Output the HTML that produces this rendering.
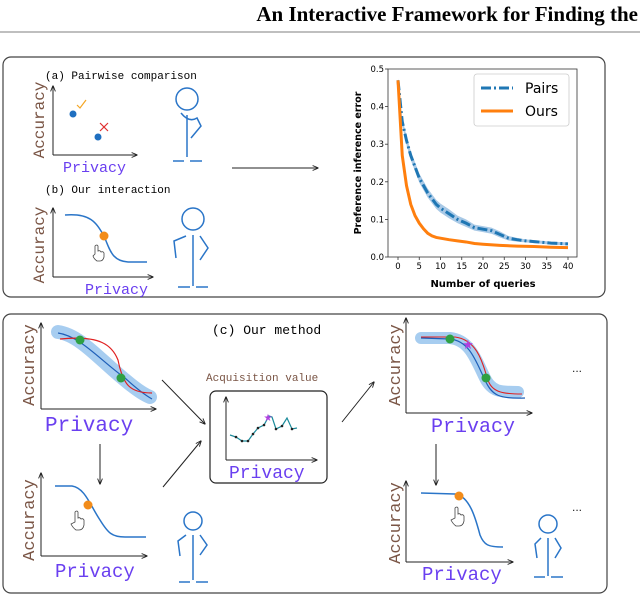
<!DOCTYPE html>
<html><head><meta charset="utf-8"><style>
html,body{margin:0;padding:0;background:#fff;}
svg{display:block;}
.mono{font-family:"Liberation Mono",monospace;}
.acc{font-family:"Liberation Mono",monospace;fill:#7a5545;}
.prv{font-family:"Liberation Mono",monospace;fill:#6a3ff0;}
</style></head><body>
<svg id="fig" width="640" height="595" viewBox="0 0 640 595" xmlns="http://www.w3.org/2000/svg">
<defs>
<marker id="ah" viewBox="0 0 10 10" refX="9" refY="5" markerWidth="6" markerHeight="6" orient="auto"><path d="M0,1 L10,5 L0,9" fill="none" stroke="#222" stroke-width="1.5"/></marker>
</defs>
<text x="638" y="21" text-anchor="end" font-family="Liberation Serif,serif" font-weight="bold" font-size="21">An Interactive Framework for Finding the</text>
<line x1="0" y1="32" x2="640" y2="32" stroke="#555" stroke-width="0.8"/>

<rect x="3" y="57" width="602" height="240" rx="8" fill="none" stroke="#444" stroke-width="1.2"/>
<g>
<text x="45" y="79" class="mono" font-size="11">(a) Pairwise comparison</text>
<line x1="53" y1="155" x2="53" y2="86" stroke="#222" marker-end="url(#ah)"/>
<line x1="53" y1="155" x2="137" y2="155" stroke="#222" marker-end="url(#ah)"/>
<text transform="translate(44,120) rotate(-90)" text-anchor="middle" class="acc" font-size="16">Accuracy</text>
<text x="63" y="172" class="prv" font-size="15">Privacy</text>
<circle cx="73" cy="114" r="3.5" fill="#1f6fc0"/><circle cx="98" cy="137" r="3.5" fill="#1f6fc0"/>
<path d="M77,105 l3,3 l6,-8" stroke="#f5a623" fill="none" stroke-width="1.2"/>
<path d="M100,123 l8,8 M108,123 l-8,8" stroke="#e03030" fill="none" stroke-width="1.2"/>
<g stroke="#2a75c8" fill="none" stroke-width="1.5"><circle cx="187" cy="99" r="11"/><line x1="187" y1="115" x2="187" y2="157"/><path d="M181,113 q8,10 16,5 l4,8 l-10,12"/><line x1="173" y1="161" x2="184" y2="161"/><line x1="190" y1="161" x2="202" y2="161"/></g>
</g>
<g>
<text x="45" y="193" class="mono" font-size="11">(b) Our interaction</text>
<line x1="53" y1="277" x2="53" y2="208" stroke="#222" marker-end="url(#ah)"/>
<line x1="53" y1="277" x2="153" y2="277" stroke="#222" marker-end="url(#ah)"/>
<text transform="translate(44,245) rotate(-90)" text-anchor="middle" class="acc" font-size="16">Accuracy</text>
<text x="85" y="294" class="prv" font-size="15">Privacy</text>
<path d="M65,215 C90,213 96,222 104,236 C110,250 112,262 130,262 L147,262" stroke="#2a75c8" fill="none" stroke-width="1.5"/>
<circle cx="104" cy="236" r="4.5" fill="#f28c1a"/>
<path d="M95,254 l0,-8 q2,-2 3,0 l0,5 q2,-1 3,1 q2,-1 3,1 l0,4 q-1,4 -4,4 l-3,0 q-3,-2 -4,-5 z" fill="#fff" stroke="#444" stroke-width="0.8"/>
<g stroke="#2a75c8" fill="none" stroke-width="1.5"><circle cx="193" cy="219" r="11"/><line x1="193" y1="235" x2="193" y2="286"/><path d="M186,236 l-12,5 l2,17 M200,236 l8,12 l-8,12"/><line x1="178" y1="287" x2="190" y2="287"/><line x1="196" y1="287" x2="208" y2="287"/></g>
</g>
<line x1="232" y1="168" x2="318" y2="168" stroke="#222" marker-end="url(#ah)"/>
<g id="chart"></g>

<rect x="3" y="314" width="604" height="279" rx="8" fill="none" stroke="#444" stroke-width="1.2"/>
<text x="212" y="334" class="mono" font-size="13">(c) Our method</text>
<g>
<line x1="41" y1="409" x2="41" y2="323" stroke="#222" marker-end="url(#ah)"/>
<line x1="41" y1="409" x2="156" y2="409" stroke="#222" marker-end="url(#ah)"/>
<text transform="translate(34,365) rotate(-90)" text-anchor="middle" class="acc" font-size="17">Accuracy</text>
<text x="45" y="431" class="prv" font-size="21">Privacy</text>
<path d="M58,332 C80,335 100,360 125,380 C138,391 145,395 150,397" stroke="#a7cdf0" stroke-width="14" stroke-linecap="round" fill="none"/>
<path d="M58,333 C80,336 100,360 125,378 C138,390 145,395 152,399" stroke="#1f5fb8" stroke-width="1.2" fill="none"/>
<path d="M60,339 C100,335 112,345 118,360 C123,385 130,393 152,393" stroke="#e02020" stroke-width="1.2" fill="none"/>
<circle cx="80" cy="340" r="4.5" fill="#2ea043"/><circle cx="121" cy="378" r="4.5" fill="#2ea043"/>
</g>
<line x1="100" y1="444" x2="100" y2="484" stroke="#222" marker-end="url(#ah)"/>
<line x1="162" y1="380" x2="205" y2="424" stroke="#222" marker-end="url(#ah)"/>
<line x1="163" y1="487" x2="201" y2="441" stroke="#222" marker-end="url(#ah)"/>
<g>
<line x1="41" y1="556" x2="41" y2="473" stroke="#222" marker-end="url(#ah)"/>
<line x1="41" y1="556" x2="147" y2="556" stroke="#222" marker-end="url(#ah)"/>
<text transform="translate(34,520) rotate(-90)" text-anchor="middle" class="acc" font-size="17">Accuracy</text>
<text x="55" y="577" class="prv" font-size="19">Privacy</text>
<path d="M55,486 L72,486 C85,488 90,505 100,520 C108,533 112,537 125,537 L146,537" stroke="#2a75c8" fill="none" stroke-width="1.5"/>
<circle cx="88" cy="505" r="4.5" fill="#f28c1a"/>
<path d="M75,522 l0,-10 q2,-2 3,0 l0,6 q2,-1 3,1 q2,-1 3,1 l0,5 q-1,5 -5,5 l-3,0 q-3,-2 -5,-6 z" fill="#fff" stroke="#444" stroke-width="0.8"/>
<g stroke="#2a75c8" fill="none" stroke-width="1.5"><circle cx="193" cy="521" r="9"/><line x1="193" y1="535" x2="193" y2="580"/><path d="M186,535 l-8,6 l2,15 M200,535 l7,10 l-7,10"/><line x1="179" y1="582" x2="190" y2="582"/><line x1="196" y1="582" x2="208" y2="582"/></g>
</g>
<g>
<text x="206" y="381" class="mono" font-size="11" fill="#7a5545">Acquisition value</text>
<rect x="210" y="391" width="117" height="92" rx="6" fill="none" stroke="#222" stroke-width="1.2"/>
<line x1="226" y1="460" x2="226" y2="397" stroke="#222" marker-end="url(#ah)"/>
<line x1="226" y1="460" x2="317" y2="460" stroke="#222" marker-end="url(#ah)"/>
<text x="229" y="478" class="prv" font-size="18">Privacy</text>
<path d="M230,435 L236,437 L242,441 L248,441 L253,434 L258,428 L264,425 L269,416 L272,417 L276,429 L282,426 L287,418 L292,429 L297,428" stroke="#1a8a9a" fill="none" stroke-width="1.2"/>
<g fill="#222"><circle cx="236" cy="437" r="1.3"/><circle cx="242" cy="441" r="1.3"/><circle cx="248" cy="441" r="1.3"/><circle cx="253" cy="434" r="1.3"/><circle cx="258" cy="428" r="1.3"/><circle cx="264" cy="425" r="1.3"/><circle cx="276" cy="429" r="1.3"/><circle cx="282" cy="426" r="1.3"/><circle cx="292" cy="429" r="1.3"/></g>
<text x="268" y="421" text-anchor="middle" font-size="10" fill="#b040e0">★</text>
</g>
<line x1="342" y1="422" x2="374" y2="382" stroke="#222" marker-end="url(#ah)"/>
<g>
<line x1="406" y1="413" x2="406" y2="318" stroke="#222" marker-end="url(#ah)"/>
<line x1="406" y1="413" x2="532" y2="413" stroke="#222" marker-end="url(#ah)"/>
<text transform="translate(400,365) rotate(-90)" text-anchor="middle" class="acc" font-size="17">Accuracy</text>
<text x="431" y="432" class="prv" font-size="20">Privacy</text>
<path d="M421,338 L450,338 C470,340 476,360 485,378 C492,392 500,392 518,392" stroke="#a7cdf0" stroke-width="12" stroke-linecap="round" fill="none"/>
<path d="M421,338 L450,339 C470,341 476,362 485,380 C492,396 500,399 525,398" stroke="#1f5fb8" stroke-width="1.2" fill="none"/>
<path d="M421,337 L455,337 C480,340 484,370 488,380 C492,393 505,394 522,394" stroke="#e02020" stroke-width="1.1" fill="none"/>
<circle cx="450" cy="339" r="4.5" fill="#2ea043"/><circle cx="486" cy="378" r="4.5" fill="#2ea043"/>
<text x="468" y="349" text-anchor="middle" font-size="13" fill="#b040e0">★</text>
<text x="572" y="372" font-size="12" fill="#222" font-family="Liberation Sans,sans-serif">...</text>
</g>
<line x1="436" y1="444" x2="436" y2="485" stroke="#222" marker-end="url(#ah)"/>
<g>
<line x1="406" y1="562" x2="406" y2="481" stroke="#222" marker-end="url(#ah)"/>
<line x1="406" y1="562" x2="513" y2="562" stroke="#222" marker-end="url(#ah)"/>
<text transform="translate(400,523) rotate(-90)" text-anchor="middle" class="acc" font-size="17">Accuracy</text>
<text x="422" y="580" class="prv" font-size="19">Privacy</text>
<path d="M421,493 L455,494 C470,496 476,520 480,535 C484,545 488,547 503,547" stroke="#2a75c8" fill="none" stroke-width="1.5"/>
<circle cx="459" cy="496" r="4.5" fill="#f28c1a"/>
<path d="M455,518 l0,-10 q2,-2 3,0 l0,6 q2,-1 3,1 q2,-1 3,1 l0,5 q-1,5 -5,5 l-3,0 q-3,-2 -5,-6 z" fill="#fff" stroke="#444" stroke-width="0.8"/>
<g stroke="#2a75c8" fill="none" stroke-width="1.5"><circle cx="548" cy="524" r="9"/><line x1="548" y1="538" x2="548" y2="576"/><path d="M541,538 l-6,6 l2,14 M555,538 l6,10 l-6,10"/><line x1="534" y1="577" x2="545" y2="577"/><line x1="551" y1="577" x2="563" y2="577"/></g>
<text x="572" y="511" font-size="12" fill="#222" font-family="Liberation Sans,sans-serif">...</text>
</g>
</svg>
<script>
const queryX = [0,1,2,3,4,5,6,7,8,9,10,12,14,16,18,20,22,24,26,28,30,32,34,36,38,40];
const pairsErr = [0.47,0.36,0.31,0.27,0.24,0.21,0.19,0.17,0.155,0.14,0.13,0.115,0.10,0.09,0.078,0.074,0.07,0.06,0.05,0.046,0.043,0.041,0.039,0.037,0.036,0.035];
const pairsBand = [0.005,0.01,0.012,0.012,0.012,0.012,0.012,0.012,0.012,0.012,0.012,0.012,0.01,0.01,0.008,0.008,0.008,0.008,0.006,0.005,0.004,0.004,0.004,0.004,0.004,0.004];
const oursX = [0,1,2,3,4,5,6,7,8,9,10,12,14,16,18,20,24,28,32,36,40];
const oursErr = [0.47,0.27,0.19,0.14,0.11,0.09,0.075,0.063,0.056,0.052,0.05,0.046,0.043,0.04,0.036,0.034,0.031,0.029,0.028,0.026,0.025];
const xTicks = [0,5,10,15,20,25,30,35,40];
const yTicks = [0.0,0.1,0.2,0.3,0.4,0.5];
const NS='http://www.w3.org/2000/svg';
const g=document.getElementById('chart');
const L=388,R=577,T=69,B=257;
function sx(v){return 398+(v-0)*(568-398)/40;}
function sy(v){return B-(v/0.5)*(B-T);}
function mk(tag,attrs,parent){const e=document.createElementNS(NS,tag);for(const k in attrs)e.setAttribute(k,attrs[k]);(parent||g).appendChild(e);return e;}
let e;
e=mk('rect',{x:L,y:T,width:R-L,height:B-T,fill:'none',stroke:'#333','stroke-width':0.8});


xTicks.forEach(v=>{mk('line',{x1:sx(v),x2:sx(v),y1:B,y2:B+3,stroke:'#333','stroke-width':0.8});
 const t=mk('text',{x:sx(v),y:B+12,'text-anchor':'middle','font-size':8.5,'font-family':'DejaVu Sans,sans-serif'});t.textContent=v;
 
 });
yTicks.forEach(v=>{mk('line',{x1:L-3,x2:L,y1:sy(v),y2:sy(v),stroke:'#333','stroke-width':0.8});
 const t=mk('text',{x:L-4,y:sy(v)+3,'text-anchor':'end','font-size':8.5,'font-family':'DejaVu Sans,sans-serif'});t.textContent=v.toFixed(1);
 
 });
e=mk('text',{x:483,y:287,'text-anchor':'middle','font-size':10,'font-weight':'bold','font-family':'DejaVu Sans,sans-serif'});e.textContent='Number of queries';


e=mk('text',{transform:'translate(361,163) rotate(-90)','text-anchor':'middle','font-size':9.5,'font-weight':'bold','font-family':'DejaVu Sans,sans-serif'});e.textContent='Preference inference error';


let up=queryX.map((x,i)=>sx(x)+','+sy(pairsErr[i]+pairsBand[i]));
let dn=queryX.map((x,i)=>sx(x)+','+sy(pairsErr[i]-pairsBand[i])).reverse();
e=mk('polygon',{points:up.concat(dn).join(' '),fill:'#a9c9e6'});


e=mk('polyline',{points:queryX.map((x,i)=>sx(x)+','+sy(pairsErr[i])).join(' '),fill:'none',stroke:'#1f77b4','stroke-width':3,'stroke-dasharray':'10 3 2 3'});


e=mk('polyline',{points:oursX.map((x,i)=>sx(x)+','+sy(oursErr[i])).join(' '),fill:'none',stroke:'#ff7f0e','stroke-width':3});


e=mk('rect',{x:474,y:74,width:95,height:52,rx:3,fill:'#fff','fill-opacity':0.85,stroke:'#ccc','stroke-width':0.8});


e=mk('line',{x1:481,x2:513,y1:88,y2:88,stroke:'#1f77b4','stroke-width':3,'stroke-dasharray':'10 3 2 3'});


e=mk('text',{x:525,y:93,'font-size':14,'font-family':'DejaVu Sans,sans-serif'});e.textContent='Pairs';


e=mk('line',{x1:481,x2:513,y1:111,y2:111,stroke:'#ff7f0e','stroke-width':3});


e=mk('text',{x:525,y:116,'font-size':14,'font-family':'DejaVu Sans,sans-serif'});e.textContent='Ours';


</script>
</body></html>
